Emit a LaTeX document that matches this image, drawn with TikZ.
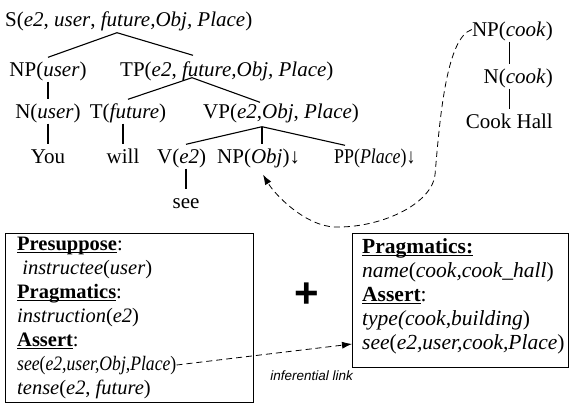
\documentclass[tikz,border=0pt]{standalone}
\usepackage{fontspec}
\setmainfont{Liberation Serif}
\newfontfamily\linksans{Liberation Sans}
\usetikzlibrary{positioning, calc, arrows.meta}

\newsavebox{\ulsave}
\newcommand{\ulbf}[1]{\sbox{\ulsave}{\textbf{#1}}\rlap{\rule[-3pt]{\wd\ulsave}{1.3pt}}\usebox{\ulsave}}

\tikzset{
    treenode/.style={
        inner xsep=0pt, inner ysep=3.5pt, text height=15pt, text depth=2pt
    },
    branch/.style={
        line width=1.1pt
    },
    infobox/.style={
        draw, line width=1.3pt, anchor=north west
    },
    boxline/.style={
        inner sep=0pt, text height=15pt, text depth=5pt, anchor=base west,
        font=\fontsize{20.5}{24}\selectfont
    },
    wideline/.style={
        boxline, font=\fontsize{21.5}{24}\selectfont
    }
}

\begin{document}
\begin{tikzpicture}[
        x=1pt, y=-1pt,
        font=\fontsize{21}{24}\selectfont,
        % dashed link between the two structures
        linkptr/.style={
            dash pattern=on 6pt off 4pt, line width=0.8pt,
            -{Latex[length=10pt, width=7pt]}
        },
        % label of the link
        linklabel/.style={
            font=\linksans\itshape\fontsize{13.5}{16}\selectfont
        }
    ]
    \useasboundingbox (0,0) rectangle (569,408);

    % --- 1. derivation tree ---
    \node[treenode, anchor=base west] (sroot) at (5,26) {S(\textit{e2}, \textit{user}, \textit{future,Obj, Place})};
    \node[treenode, anchor=base] (npuser) at (48,76) {NP(\textit{user})};
    \node[treenode, anchor=base west] (tp) at (120,76) {TP(\textit{e2}, \textit{future,Obj, Place})};
    \node[treenode, anchor=base] (nuser) at (48,118) {N(\textit{user})};
    \node[treenode, anchor=base] (tfut) at (128,118) {T(\textit{future})};
    \node[treenode, anchor=base west] (vp) at (203,118) {VP(\textit{e2},\textit{Obj}, \textit{Place})};
    \node[treenode, anchor=base] (you) at (48,163) {You};
    \node[treenode, anchor=base] (will) at (123,163) {will};
    \node[treenode, anchor=base west] (verb) at (157,163) {V(\textit{e2})};
    \node[treenode, anchor=base west] (npobj) at (217,163) {NP(\textit{Obj})↓};
    \node[treenode, anchor=base west] (pp) at (334,163) {\scalebox{0.85}[1]{PP(\textit{Place})↓}};
    \node[treenode, anchor=base] (seeword) at (186,208) {see};

    \coordinate (sfoot) at ($(sroot.south west)+(112,1)$);
    \coordinate (tpfoot) at ($(tp.south west)+(72,-4)$);
    \coordinate (vpfoot) at ($(vp.south west)+(59,3)$);

    \draw[branch] (sfoot) -- (npuser.north);
    \draw[branch] (sfoot) -- ($(tp.north west)+(73,-2)$);
    \draw[branch] (npuser.south) -- (nuser.north);
    \draw[branch] (nuser.south) -- (you.north);
    \draw[branch] (tpfoot) -- (tfut.north);
    \draw[branch] (tpfoot) -- ($(vp.north west)+(57,3)$);
    \draw[branch] (tfut.south -| will.north) -- (will.north);
    \draw[branch] (vpfoot) -- (verb.north -| seeword.north);
    \draw[branch] (vpfoot) -- (vpfoot |- npobj.north);
    \draw[branch] (vpfoot) -- ($(pp.north west)+(11,1)$);
    \draw[branch] (verb.south -| seeword.north) -- (seeword.north);

    % --- 2. tree of the landmark ---
    \node[treenode, anchor=base east] (npcook) at (553,36) {NP(\textit{cook})};
    \node[treenode, anchor=base east] (ncook) at (553,83) {N(\textit{cook})};
    \node[treenode, anchor=base east] (cookhall) at (553,128) {Cook Hall};
    \draw[branch] (npcook.south -| cookhall.north) -- (ncook.north -| cookhall.north);
    \draw[branch] (ncook.south -| cookhall.north) -- (cookhall.north);

    % --- 3. semantic boxes ---
    \node[infobox, minimum width=248pt, minimum height=169pt] (leftbox) at (5,233) {};
    \node[boxline] (presup) at ($(leftbox.north west)+(12,17)$) {\ulbf{Presuppose}:};
    \node[boxline, below=24pt of presup.base west, anchor=base west] (instructee) {\ \textit{instructee}(\textit{user})};
    \node[boxline, below=24pt of instructee.base west, anchor=base west] (pragleft) {\ulbf{Pragmatics}:};
    \node[boxline, below=24pt of pragleft.base west, anchor=base west] (instruction) {\textit{instruction}(\textit{e2})};
    \node[boxline, below=24pt of instruction.base west, anchor=base west] (assertleft) {\ulbf{Assert}:};
    \node[boxline, below=24pt of assertleft.base west, anchor=base west] (seeleft) {\scalebox{0.86}[1]{\textit{see}(\textit{e2,user,Obj,Place})}};
    \node[boxline, below=24pt of seeleft.base west, anchor=base west] (tense) {\textit{tense}(\textit{e2}, \textit{future})};

    \node[infobox, minimum width=216pt, minimum height=134pt] (rightbox) at (352,233) {};
    \node[wideline] (pragright) at ($(rightbox.north west)+(10,20)$) {\ulbf{Pragmatics:}};
    \node[wideline, below=24pt of pragright.base west, anchor=base west] (name) {\textit{name}(\textit{cook,cook\_hall})};
    \node[wideline, below=24pt of name.base west, anchor=base west] (assertright) {\ulbf{Assert}:};
    \node[wideline, below=24pt of assertright.base west, anchor=base west] (type) {\textit{type(cook,building})};
    \node[wideline, below=24pt of type.base west, anchor=base west] (seeright) {\textit{see}(\textit{e2,user,cook,Place})};

    \node[font=\linksans\bfseries\fontsize{42}{42}\selectfont, inner sep=0pt] (plus) at (307,295) {+};

    % --- 4. links ---
    \draw[linkptr] (seeleft.east) -- (seeright -| rightbox.west)
        node[linklabel, pos=0.77, yshift=-27pt] {inferential link};
    \draw[linkptr] (npcook.west) .. controls +(-25,8) and +(5,-60) .. (435,175)
        .. controls +(-4,30) and +(45,1) .. (335,227)
        .. controls +(-30,-1) and +(12,20) .. ($(vpfoot |- npobj.south)+(1,6)$);

\end{tikzpicture}
\end{document}
